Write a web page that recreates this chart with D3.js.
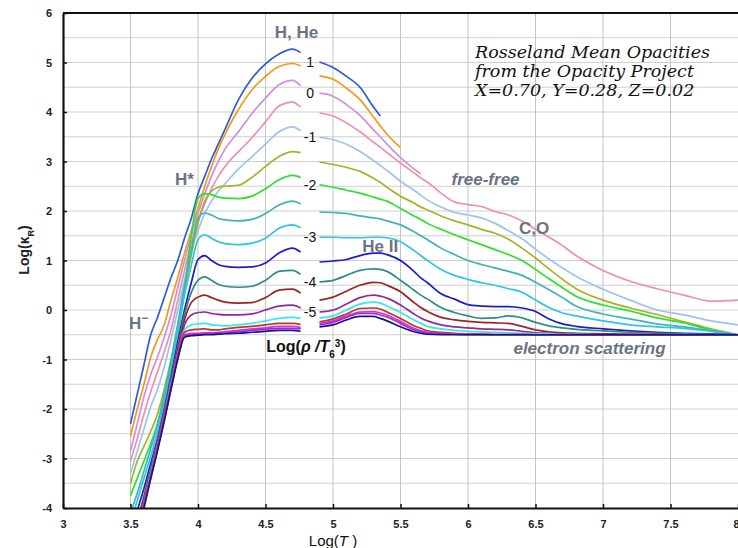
<!DOCTYPE html>
<html>
<head>
<meta charset="utf-8">
<script src="https://cdn.jsdelivr.net/npm/d3@7"></script>
<style>
    body { margin: 0; background: #fff; }
    svg text { font-family: "Liberation Sans", Arial, sans-serif; }
</style>
</head>
<body>
<script>
'use strict';

// log(rho / T6^3) of each curve, top to bottom
var logR = [1, 0.5, 0, -0.5, -1, -1.5, -2, -2.5, -3, -3.5, -4, -4.5, -5, -5.5, -6, -6.5, -7, -7.5];
var colors = ['#2f5bd9', '#f39a1c', '#cf8fe0', '#ee8fb0', '#9ec3ee', '#a3b526', '#2ee02e', '#3fb4b8',
    '#2cc6e4', '#1c1ccc', '#2c8f86', '#9c2424', '#8e2a9c', '#36e6f2', '#b83a22', '#e62ccc', '#9a2ae6', '#181870'];

// left branch (below the gap) and right branch (above the gap), log T
var leftT = [3.5, 3.55, 3.6, 3.65, 3.7, 3.75, 3.8, 3.85, 3.9, 3.95, 4.0, 4.05, 4.1, 4.15, 4.2, 4.3, 4.4, 4.5, 4.6, 4.7, 4.76];
var rightT = [4.9, 5.0, 5.1, 5.2, 5.3, 5.35, 5.4, 5.5, 5.6, 5.65, 5.7, 5.8, 5.9, 6.0, 6.1, 6.2, 6.3, 6.4, 6.5, 6.6, 6.7, 6.8, 7.0, 7.2, 7.4, 7.6, 7.8, 8.0];

// log kappa_R, one row per logR
var leftK = [
    [-2.3, -1.7, -1.1, -0.5, -0.15, 0.25, 0.65, 1.0, 1.45, 1.85, 2.35, 2.7, 3.05, 3.35, 3.65, 4.25, 4.68, 4.97, 5.17, 5.27, 5.2],
    [-2.55, -2.0, -1.5, -0.95, -0.6, -0.3, 0.2, 0.65, 1.15, 1.6, 2.05, 2.5, 2.9, 3.25, 3.55, 4.05, 4.45, 4.72, 4.92, 4.98, 4.93],
    [-2.85, -2.3, -1.75, -1.3, -0.95, -0.55, -0.1, 0.45, 1.0, 1.5, 1.95, 2.35, 2.7, 3.0, 3.25, 3.6, 3.97, 4.28, 4.55, 4.64, 4.53],
    [-3.05, -2.6, -2.1, -1.65, -1.25, -0.85, -0.4, 0.2, 0.8, 1.35, 1.8, 2.15, 2.45, 2.7, 2.9, 3.2, 3.48, 3.8, 4.12, 4.2, 4.1],
    [-3.3, -2.85, -2.4, -1.95, -1.6, -1.15, -0.6, 0.0, 0.6, 1.2, 1.6, 1.95, 2.2, 2.4, 2.55, 2.85, 3.1, 3.35, 3.6, 3.7, 3.62],
    [-3.5, -3.05, -2.75, -2.45, -2.1, -1.6, -1.0, -0.3, 0.4, 1.1, 1.75, 2.2, 2.4, 2.48, 2.5, 2.52, 2.68, 2.9, 3.1, 3.2, 3.18],
    [-3.75, -3.4, -3.05, -2.7, -2.3, -1.8, -1.2, -0.5, 0.4, 1.5, 2.25, 2.35, 2.33, 2.28, 2.26, 2.25, 2.3, 2.45, 2.63, 2.72, 2.68],
    [-4.1, -3.7, -3.25, -2.8, -2.3, -1.7, -1.05, -0.3, 0.5, 1.2, 1.85, 1.96, 1.92, 1.85, 1.82, 1.8, 1.83, 1.95, 2.12, 2.2, 2.14],
    [-4.3, -3.85, -3.4, -2.95, -2.45, -1.85, -1.2, -0.45, 0.3, 0.9, 1.42, 1.52, 1.45, 1.38, 1.34, 1.32, 1.35, 1.45, 1.65, 1.72, 1.66],
    [-4.5, -4.05, -3.6, -3.1, -2.6, -2.0, -1.35, -0.65, 0.0, 0.55, 1.02, 1.1, 1.0, 0.92, 0.88, 0.86, 0.87, 0.95, 1.15, 1.25, 1.17],
    [-4.75, -4.25, -3.75, -3.2, -2.65, -2.05, -1.4, -0.75, -0.1, 0.35, 0.6, 0.67, 0.6, 0.52, 0.48, 0.46, 0.48, 0.6, 0.78, 0.8, 0.72],
    [-4.9, -4.35, -3.8, -3.25, -2.7, -2.1, -1.45, -0.8, -0.2, 0.15, 0.26, 0.3, 0.25, 0.2, 0.16, 0.14, 0.15, 0.25, 0.4, 0.42, 0.34],
    [-4.95, -4.4, -3.85, -3.3, -2.7, -2.1, -1.5, -0.85, -0.3, -0.1, -0.05, -0.04, -0.07, -0.09, -0.1, -0.1, -0.08, 0.0, 0.08, 0.1, 0.04],
    [-5.0, -4.45, -3.9, -3.3, -2.75, -2.15, -1.5, -0.9, -0.4, -0.3, -0.28, -0.27, -0.3, -0.31, -0.32, -0.3, -0.27, -0.22, -0.17, -0.15, -0.17],
    [-5.05, -4.5, -3.9, -3.35, -2.75, -2.15, -1.55, -0.9, -0.45, -0.4, -0.39, -0.38, -0.4, -0.4, -0.38, -0.35, -0.33, -0.3, -0.27, -0.27, -0.29],
    [-5.1, -4.5, -3.95, -3.35, -2.8, -2.2, -1.55, -0.95, -0.5, -0.47, -0.47, -0.46, -0.46, -0.45, -0.44, -0.41, -0.38, -0.36, -0.33, -0.33, -0.35],
    [-5.1, -4.55, -3.95, -3.4, -2.8, -2.2, -1.6, -0.95, -0.52, -0.5, -0.49, -0.48, -0.48, -0.47, -0.46, -0.44, -0.41, -0.39, -0.37, -0.37, -0.38],
    [-5.15, -4.55, -4.0, -3.4, -2.85, -2.25, -1.6, -1.0, -0.55, -0.52, -0.51, -0.5, -0.5, -0.49, -0.48, -0.47, -0.45, -0.43, -0.41, -0.41, -0.43]
];

var rightK = [
    [5.01, 4.9, 4.72, 4.5, 4.1, 3.92, null, null, null, null, null, null, null, null, null, null, null, null, null, null, null, null, null, null, null, null, null, null],
    [4.73, 4.66, 4.48, 4.25, 3.9, 3.72, 3.55, 3.28, null, null, null, null, null, null, null, null, null, null, null, null, null, null, null, null, null, null, null, null],
    [4.38, 4.32, 4.15, 3.93, 3.64, 3.5, 3.35, 3.08, 2.85, 2.75, null, null, null, null, null, null, null, null, null, null, null, null, null, null, null, null, null, null],
    [3.98, 3.92, 3.78, 3.6, 3.39, 3.29, 3.18, 2.97, 2.77, 2.67, 2.58, 2.36, 2.18, 2.13, 2.09, 1.99, 1.92, 1.8, 1.63, 1.47, 1.3, 1.1, 0.8, 0.58, 0.43, 0.3, 0.18, 0.2],
    [3.49, 3.44, 3.35, 3.2, 3.02, 2.92, 2.82, 2.6, 2.42, 2.32, 2.22, 2.08, 1.97, 1.92, 1.86, 1.75, 1.6, 1.44, 1.23, 1.03, 0.85, 0.68, 0.42, 0.2, 0.0, -0.1, -0.22, -0.3],
    [2.99, 2.94, 2.88, 2.8, 2.66, 2.58, 2.48, 2.3, 2.16, 2.08, 2.02, 1.9, 1.8, 1.72, 1.63, 1.55, 1.43, 1.25, 1.05, 0.83, 0.62, 0.43, 0.2, 0.04, -0.09, -0.24, -0.38, -0.5],
    [2.53, 2.48, 2.42, 2.36, 2.28, 2.24, 2.2, 2.05, 1.9, 1.83, 1.75, 1.63, 1.52, 1.42, 1.32, 1.22, 1.12, 1.0, 0.82, 0.63, 0.45, 0.28, 0.1, -0.02, -0.16, -0.26, -0.4, -0.5],
    [1.98, 1.97, 1.95, 1.9, 1.86, 1.84, 1.8, 1.72, 1.58, 1.5, 1.42, 1.25, 1.12, 1.0, 0.92, 0.85, 0.78, 0.7, 0.56, 0.41, 0.25, 0.08, -0.08, -0.18, -0.28, -0.34, -0.42, -0.5],
    [1.47, 1.47, 1.46, 1.46, 1.47, 1.47, 1.46, 1.38, 1.2, 1.1, 1.0, 0.82, 0.7, 0.62, 0.55, 0.5, 0.43, 0.36, 0.2, 0.05, -0.06, -0.12, -0.22, -0.3, -0.34, -0.37, -0.43, -0.5],
    [0.97, 0.99, 1.02, 1.1, 1.15, 1.15, 1.12, 1.0, 0.78, 0.65, 0.55, 0.33, 0.22, 0.11, 0.08, 0.07, 0.07, 0.04, -0.03, -0.18, -0.28, -0.33, -0.38, -0.42, -0.45, -0.47, -0.48, -0.5],
    [0.57, 0.6, 0.7, 0.8, 0.83, 0.82, 0.78, 0.6, 0.4, 0.3, 0.22, 0.05, -0.05, -0.12, -0.17, -0.16, -0.12, -0.16, -0.25, -0.32, -0.36, -0.39, -0.42, -0.45, -0.47, -0.48, -0.49, -0.5],
    [0.2, 0.26, 0.38, 0.5, 0.56, 0.55, 0.5, 0.37, 0.15, 0.05, -0.03, -0.15, -0.2, -0.23, -0.25, -0.26, -0.27, -0.33, -0.4, -0.44, -0.46, -0.47, -0.48, -0.49, -0.49, -0.5, -0.5, -0.5],
    [-0.04, 0.0, 0.12, 0.25, 0.3, 0.28, 0.24, 0.1, -0.08, -0.16, -0.22, -0.3, -0.34, -0.36, -0.38, -0.39, -0.4, -0.43, -0.46, -0.47, -0.48, -0.48, -0.49, -0.49, -0.5, -0.5, -0.5, -0.5],
    [-0.16, -0.12, 0.0, 0.12, 0.16, 0.14, 0.08, -0.05, -0.2, -0.27, -0.33, -0.38, -0.41, -0.43, -0.44, -0.45, -0.46, -0.47, -0.48, -0.48, -0.49, -0.49, -0.5, -0.5, -0.5, -0.5, -0.5, -0.5],
    [-0.24, -0.18, -0.08, 0.03, 0.04, 0.02, -0.04, -0.17, -0.32, -0.37, -0.42, -0.45, -0.47, -0.48, -0.48, -0.49, -0.49, -0.49, -0.5, -0.5, -0.5, -0.5, -0.5, -0.5, -0.5, -0.5, -0.5, -0.5],
    [-0.27, -0.22, -0.12, -0.04, -0.03, -0.06, -0.1, -0.23, -0.37, -0.42, -0.45, -0.47, -0.48, -0.49, -0.49, -0.5, -0.5, -0.5, -0.5, -0.5, -0.5, -0.5, -0.5, -0.5, -0.5, -0.5, -0.5, -0.5],
    [-0.3, -0.25, -0.15, -0.07, -0.07, -0.1, -0.14, -0.27, -0.4, -0.44, -0.47, -0.48, -0.49, -0.5, -0.5, -0.5, -0.5, -0.5, -0.5, -0.5, -0.5, -0.5, -0.5, -0.5, -0.5, -0.5, -0.5, -0.5],
    [-0.34, -0.3, -0.2, -0.13, -0.13, -0.17, -0.22, -0.34, -0.44, -0.47, -0.49, -0.5, -0.5, -0.5, -0.5, -0.5, -0.5, -0.5, -0.5, -0.5, -0.5, -0.5, -0.5, -0.5, -0.5, -0.5, -0.5, -0.5]
];

var xTicks = [3, 3.5, 4, 4.5, 5, 5.5, 6, 6.5, 7, 7.5, 8];
var yTicks = [6, 5, 4, 3, 2, 1, 0, -1, -2, -3, -4];
var gapLabels = [1, 0, -1, -2, -3, -4, -5];

var width = 738, height = 548;
var margin = {top: 13, right: 0, bottom: 40, left: 63};
var innerW = width - margin.left - margin.right;
var innerH = height - margin.top - margin.bottom;

var x = d3.scaleLinear().domain([3, 8]).range([0, innerW]);
var y = d3.scaleLinear().domain([-4, 6]).range([innerH, 0]);

var svg = d3.select('body').append('svg')
    .attr('width', width)
    .attr('height', height);

svg.append('defs').append('clipPath')
    .attr('id', 'plotClip')
    .append('rect')
    .attr('width', innerW)
    .attr('height', innerH);

var g = svg.append('g')
    .attr('transform', 'translate(' + margin.left + ',' + margin.top + ')');

// grid
g.append('g')
    .selectAll('line')
    .data(d3.range(-3.5, 6, 0.5))
    .enter().append('line')
    .attr('x1', 0).attr('x2', innerW)
    .attr('y1', function(d) { return y(d); })
    .attr('y2', function(d) { return y(d); })
    .attr('stroke', '#cfcfcf').attr('stroke-width', 1);

g.append('g')
    .selectAll('line')
    .data(xTicks.slice(1, -1))
    .enter().append('line')
    .attr('y1', 0).attr('y2', innerH)
    .attr('x1', function(d) { return x(d); })
    .attr('x2', function(d) { return x(d); })
    .attr('stroke', '#c4c4c4').attr('stroke-width', 1);

// curves
var line = d3.line()
    .defined(function(d) { return d[1] !== null; })
    .x(function(d) { return x(d[0]); })
    .y(function(d) { return y(d[1]); })
    .curve(d3.curveMonotoneX);

var curves = g.append('g').attr('clip-path', 'url(#plotClip)');

logR.forEach(function(r, i) {
    var left = leftT.map(function(t, j) { return [t, leftK[i][j]]; });
    var right = rightT.map(function(t, j) { return [t, rightK[i][j]]; });
    [left, right].forEach(function(pts) {
        curves.append('path')
            .attr('d', line(pts))
            .attr('fill', 'none')
            .attr('stroke', colors[i])
            .attr('stroke-width', 1.7)
            .attr('stroke-linejoin', 'round');
    });
});

// axes
var plain = function(d) { return String(d); };
var xAxis = d3.axisBottom(x).tickValues(xTicks).tickSize(-4).tickSizeOuter(0).tickPadding(12)
    .tickFormat(plain);
var yAxis = d3.axisLeft(y).tickValues(yTicks).tickSize(-4).tickSizeOuter(0).tickPadding(11)
    .tickFormat(plain);

var gx = g.append('g').attr('transform', 'translate(0,' + innerH + ')').call(xAxis);
var gy = g.append('g').call(yAxis);
[gx, gy].forEach(function(a) {
    a.select('.domain').attr('stroke', '#111').attr('stroke-width', 2.2);
    a.selectAll('.tick line').attr('stroke', '#111').attr('stroke-width', 1.5);
    a.selectAll('.tick text')
        .attr('fill', '#222')
        .style('font-family', '"Liberation Sans", Arial, sans-serif')
        .style('font-size', '11px')
        .style('font-weight', 'bold');
});
// last label sits on the window edge
gx.selectAll('.tick text')
    .filter(function(d) { return d === 8; })
    .attr('text-anchor', 'end')
    .attr('dx', '1px');

g.append('line')
    .attr('x1', 0).attr('x2', innerW).attr('y1', 0).attr('y2', 0)
    .attr('stroke', '#111').attr('stroke-width', 2.2);

// axis titles
var xt = svg.append('text')
    .attr('x', 333).attr('y', 546)
    .attr('text-anchor', 'middle')
    .style('font-size', '15px')
    .attr('fill', '#111');
xt.append('tspan').text('Log(');
xt.append('tspan').style('font-style', 'italic').text('T');
xt.append('tspan').text(' )');

var yt = svg.append('text')
    .attr('transform', 'translate(29,250) rotate(-90)')
    .attr('text-anchor', 'middle')
    .style('font-size', '14px')
    .style('font-weight', 'bold')
    .attr('fill', '#222');
yt.append('tspan').text('Log(\u03ba');
yt.append('tspan').attr('baseline-shift', 'sub').style('font-size', '9px').text('R');
yt.append('tspan').text(')');

// numbers in the gap: log(rho/T6^3) of the curve starting beside each
gapLabels.forEach(function(r) {
    var i = logR.indexOf(r);
    g.append('text')
        .attr('x', x(4.83))
        .attr('y', y(rightK[i][0]))
        .attr('dy', '0.35em')
        .attr('text-anchor', 'middle')
        .style('font-size', '14px')
        .attr('fill', '#111')
        .text(r);
});

var gl = g.append('text')
    .attr('x', x(4.8)).attr('y', y(-0.85))
    .attr('text-anchor', 'middle')
    .style('font-size', '16px')
    .style('font-weight', 'bold')
    .attr('fill', '#111');
gl.append('tspan').text('Log(');
gl.append('tspan').style('font-style', 'italic').text('\u03c1 /T');
gl.append('tspan').attr('baseline-shift', 'sub').style('font-size', '10px').text('6');
gl.append('tspan').attr('baseline-shift', 'super').style('font-size', '10px').text('3');
gl.append('tspan').text(')');

// physics annotations
var notes = [
    {t: 'H, He', x: 4.73, y: 5.62, italic: false},
    {t: 'H*', x: 3.9, y: 2.65, italic: false},
    {t: 'He II', x: 5.35, y: 1.3, italic: false},
    {t: 'C,O', x: 6.49, y: 1.66, italic: false},
    {t: 'free-free', x: 6.13, y: 2.64, italic: true},
    {t: 'electron scattering', x: 6.9, y: -0.77, italic: true}
];
notes.forEach(function(n) {
    g.append('text')
        .attr('x', x(n.x)).attr('y', y(n.y))
        .attr('dy', '0.35em')
        .attr('text-anchor', 'middle')
        .style('font-size', '17px')
        .style('font-weight', 'bold')
        .style('font-style', n.italic ? 'italic' : 'normal')
        .attr('fill', '#6b7382')
        .text(n.t);
});
var hm = g.append('text')
    .attr('x', x(3.56)).attr('y', y(-0.27))
    .attr('dy', '0.35em')
    .attr('text-anchor', 'middle')
    .style('font-size', '17px')
    .style('font-weight', 'bold')
    .attr('fill', '#6b7382');
hm.append('tspan').text('H');
hm.append('tspan').attr('baseline-shift', 'super').style('font-size', '12px').text('\u2212');

// title
var title = ['Rosseland Mean Opacities', 'from the Opacity Project', 'X=0.70, Y=0.28, Z=0.02'];
svg.append('g').selectAll('text')
    .data(title)
    .enter().append('text')
    .attr('x', 475)
    .attr('y', function(d, i) { return 58 + i * 19; })
    .style('font-family', '"DejaVu Serif", serif')
    .style('font-style', 'italic')
    .style('font-size', '17.5px')
    .attr('fill', '#111')
    .text(function(d) { return d; });
</script>
</body>
</html>
